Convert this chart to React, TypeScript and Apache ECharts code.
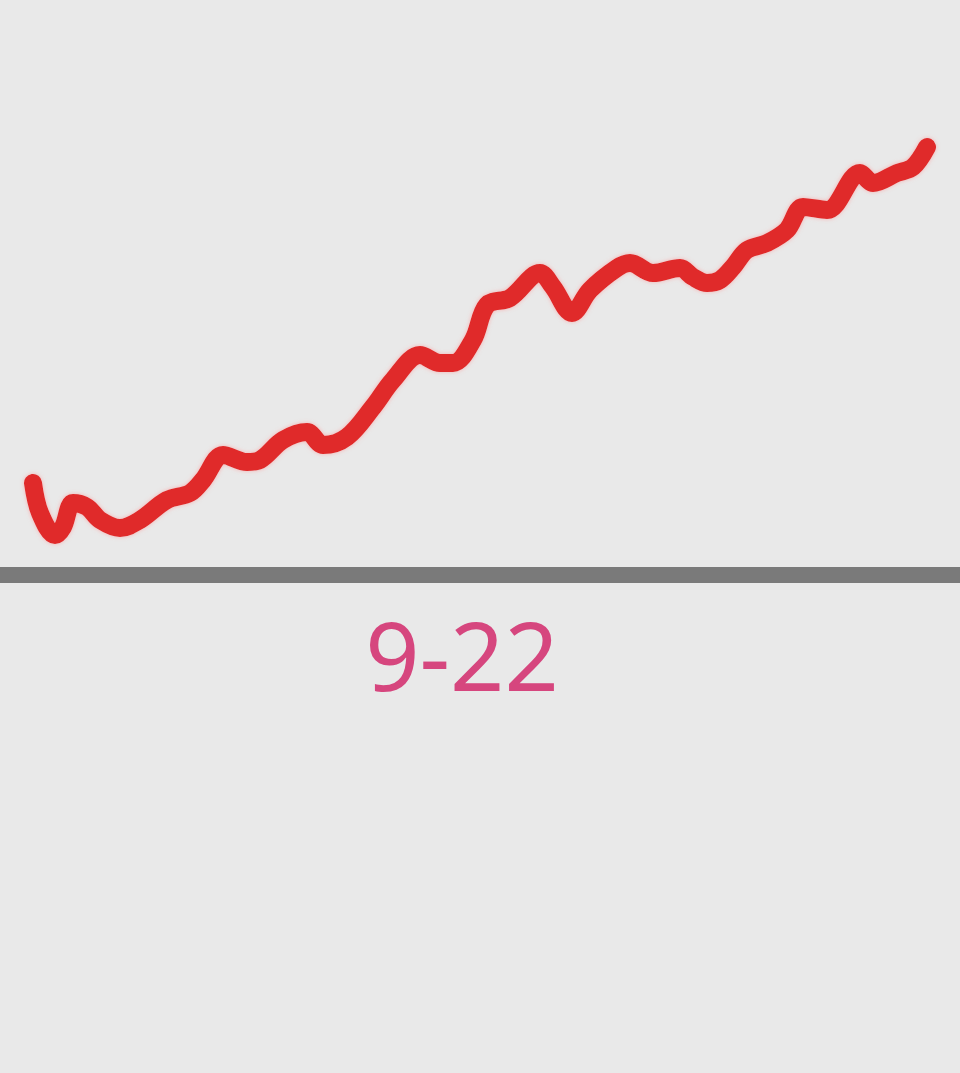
import React, { useEffect, useRef } from "react";
import * as echarts from "echarts";

// Hand-drawn trend: x position (0-96) and level (0-115)
const xValues = [
  3.3, 4.0, 5.5, 6.3, 7.3, 8.7, 10.0, 12.0, 14.0, 16.7, 19.0, 20.3, 22.3, 24.7, 26.0, 28.3,
  30.7, 32.3, 34.7, 37.3, 39.3, 42.0, 44.0, 45.3, 47.3, 48.7, 51.0, 54.0, 55.3, 57.2, 59.0,
  61.7, 63.0, 65.3, 68.0, 69.3, 70.7, 72.0, 73.3, 74.7, 76.7, 78.7, 80.3, 82.7, 86.0, 87.3,
  89.7, 91.3, 92.7,
];
const levels = [
  18.4, 12.4, 8.0, 9.6, 14.4, 13.6, 11.0, 9.4, 11.0, 15.0, 16.4, 19.0, 24.0, 22.6, 23.0, 27.0,
  28.6, 26.0, 27.6, 33.6, 39.0, 44.0, 42.4, 42.4, 47.0, 54.0, 55.4, 60.4, 57.6, 52.4, 57.0,
  61.4, 62.4, 60.4, 61.4, 59.6, 58.4, 59.0, 61.6, 65.0, 66.4, 69.0, 73.6, 73.0, 80.4, 78.4,
  80.4, 81.6, 85.6,
];
const dateLabel = "9-22";

export default function App() {
  const ref = useRef<HTMLDivElement>(null);

  useEffect(() => {
    if (!ref.current) return;
    const chart = echarts.init(ref.current, undefined, { renderer: "svg" });
    const data = xValues.map((x, i) => [x, levels[i]]);
    chart.setOption({
      animation: false,
      backgroundColor: "#e9e9e9",
      grid: { left: 0, right: 0, top: 0, bottom: 498, containLabel: false },
      xAxis: {
        type: "value",
        min: 0,
        max: 96,
        name: dateLabel,
        nameLocation: "middle",
        nameGap: 31,
        nameTextStyle: {
          color: "#d6467e",
          fontSize: 95,
          fontFamily: "Noto Sans",
          fontWeight: 400,
          padding: [0, 36, 0, 0],
        },
        axisLine: { show: true, lineStyle: { color: "#7a7a7a", width: 16 } },
        axisTick: { show: false },
        axisLabel: { show: false },
        splitLine: { show: false },
      },
      yAxis: {
        type: "value",
        min: 0,
        max: 115,
        show: false,
        splitLine: { show: false },
      },
      series: [
        {
          type: "line",
          data,
          smooth: 0.35,
          showSymbol: false,
          lineStyle: {
            color: "#e02a2a",
            width: 18,
            cap: "round",
            join: "round",
            shadowColor: "rgba(255,140,140,0.6)",
            shadowBlur: 4,
          },
        },
      ],
    });
    return () => chart.dispose();
  }, []);

  return (
    <div
      ref={ref}
      style={{ position: "fixed", left: 0, top: 0, width: 960, height: 1073 }}
    />
  );
}
